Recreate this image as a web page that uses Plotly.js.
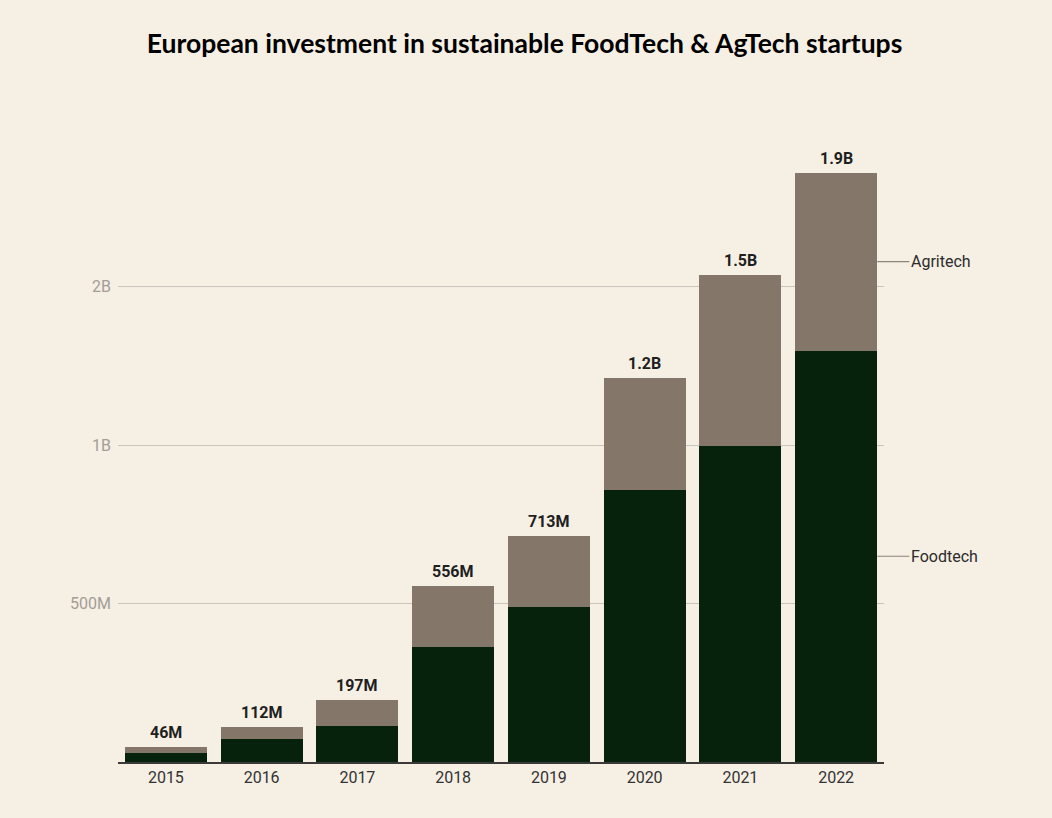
<!DOCTYPE html>
<html>
<head>
<meta charset="utf-8">
<script src="https://cdn.plot.ly/plotly-3.0.1.min.js"></script>
<style>
  html, body { margin: 0; padding: 0; background: #f6efe4; }
  #chart { width: 1052px; height: 818px; }
</style>
</head>
<body>
<div id="chart"></div>
<script>
// Data (values in units of currency)
const years = ['2015', '2016', '2017', '2018', '2019', '2020', '2021', '2022'];
const foodtech = [28e6, 74e6, 115e6, 363e6, 488e6, 858e6, 998e6, 1298e6];
const agritech = [18e6, 38e6, 82e6, 193e6, 225e6, 352e6, 537e6, 561e6];
const totalLabels = ['46M', '112M', '197M', '556M', '713M', '1.2B', '1.5B', '1.9B'];
const yTickVals = [500e6, 1000e6, 1500e6];
const yTickText = ['500M', '1B', '2B'];
const seriesNames = ['Foodtech', 'Agritech'];

const totals = foodtech.map((v, i) => v + agritech[i]);
const xIdx = years.map((_, i) => i);

const traces = [
  {
    type: 'bar', x: xIdx, y: foodtech, name: seriesNames[0],
    marker: { color: '#07220c' }, hoverinfo: 'skip'
  },
  {
    type: 'bar', x: xIdx, y: agritech, name: seriesNames[1],
    marker: { color: '#84776a' }, hoverinfo: 'skip'
  }
];

const last = years.length - 1;
const annFont = { family: 'Roboto', size: 16, color: '#2b2b2b' };

const totalAnns = xIdx.map(i => ({
  x: i, y: totals[i], xref: 'x', yref: 'y',
  text: totalLabels[i], showarrow: false,
  xanchor: 'center', yanchor: 'bottom', yshift: 3,
  font: { family: 'Roboto', size: 16, color: '#1f1f1f', weight: 'bold' }
}));

const layout = {
  width: 1052, height: 818,
  paper_bgcolor: '#f6efe4', plot_bgcolor: '#f6efe4',
  margin: { l: 118, r: 168, t: 128, b: 56 },
  showlegend: false,
  barmode: 'stack',
  bargap: 0.144,
  title: {
    text: 'European investment in sustainable FoodTech &amp; AgTech startups',
    font: { family: 'Lato', size: 26.5, color: '#000', weight: 'bold' },
    x: 524.5 / 1052, xanchor: 'center', xref: 'container',
    y: 1 - 44 / 818, yanchor: 'middle', yref: 'container'
  },
  xaxis: {
    type: 'linear', range: [-0.5, years.length - 0.5],
    tickvals: xIdx, ticktext: years, ticks: '',
    showgrid: false, zeroline: false,
    showline: true, linecolor: '#3a3a3a', linewidth: 2,
    tickfont: { family: 'Roboto', size: 16, color: '#333' }
  },
  yaxis: {
    range: [0, 2.0e9],
    tickvals: yTickVals, ticktext: yTickText, ticks: '',
    showgrid: true, gridcolor: '#c9c4bd', gridwidth: 1,
    zeroline: false, showline: false,
    ticklabelstandoff: 6,
    tickfont: { family: 'Roboto', size: 16, color: '#a39d96' }
  },
  annotations: totalAnns.concat([
    {
      x: last + 0.43, y: foodtech[last] + agritech[last] / 2, xref: 'x', yref: 'y',
      text: seriesNames[1], showarrow: true, arrowhead: 0, arrowwidth: 1.2,
      arrowcolor: '#8a847d', ax: 32, ay: 0, xanchor: 'left', font: annFont
    },
    {
      x: last + 0.43, y: foodtech[last] / 2, xref: 'x', yref: 'y',
      text: seriesNames[0], showarrow: true, arrowhead: 0, arrowwidth: 1.2,
      arrowcolor: '#8a847d', ax: 32, ay: 0, xanchor: 'left', font: annFont
    }
  ])
};

Plotly.newPlot('chart', traces, layout, { displayModeBar: false, staticPlot: true });
</script>
</body>
</html>
